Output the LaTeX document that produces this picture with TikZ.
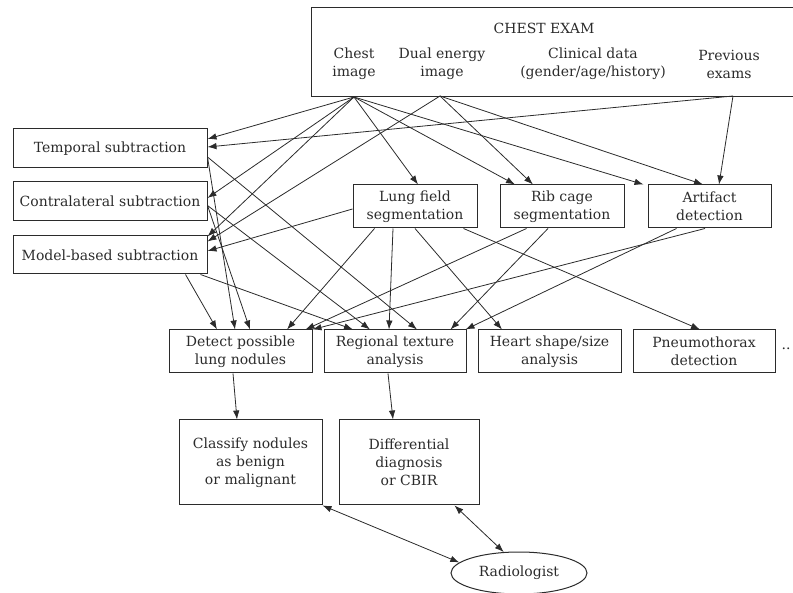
\documentclass[tikz,border=0pt]{standalone}
\usepackage{fontspec}
\setmainfont{DejaVu Serif}
\usetikzlibrary{arrows.meta,shapes.geometric}
\definecolor{ink}{HTML}{2B2B2B}
\tikzset{
  box/.style={draw=ink, line width=1pt, text=ink, align=center, inner sep=2pt,
    font=\fontsize{14}{18}\selectfont},
  lbl/.style={text=ink, align=center, inner sep=0pt, font=\fontsize{14}{18}\selectfont},
  conn/.style={draw=ink, line width=0.8pt, -{Latex[length=9pt,width=6.5pt]}},
  bconn/.style={draw=ink, line width=0.8pt, {Latex[length=9pt,width=6.5pt]}-{Latex[length=9pt,width=6.5pt]}}
}
\begin{document}
\begin{tikzpicture}[x=1pt,y=-1pt]
\useasboundingbox (0,0) rectangle (793,593);
% top box
\node[box, anchor=north west, minimum width=490pt, minimum height=89pt] (chest) at (311,7) {};
\node[lbl] (title) at (544,28) {CHEST EXAM};
\node[lbl] (ci) at (354,64) {Chest\\image};
\node[lbl] (de) at (442,64) {Dual energy\\image};
\node[lbl] (cd) at (593,64) {Clinical data\\(gender/age/history)};
\node[lbl] (pe) at (729,64) {Previous\\exams};
\coordinate (C) at (ci |- chest.south);
\coordinate (D) at (440,96);
\coordinate (P) at (733,96);
% left column
\node[box, minimum width=194pt, minimum height=39pt] (temporal) at (110,148.5) {Temporal subtraction};
\node[box, minimum width=194pt, minimum height=39pt] (contra) at (110,201.5) {Contralateral subtraction};
\node[box, minimum width=194pt, minimum height=38pt] (model) at (110,255) {Model-based subtraction};
% middle row
\node[box, minimum width=124pt, minimum height=43pt] (lung) at (415,206.5) {Lung field\\segmentation};
\node[box, minimum width=124pt, minimum height=43pt] (rib) at (562,206.5) {Rib cage\\segmentation};
\node[box, minimum width=123pt, minimum height=43pt] (artifact) at (709.5,206.5) {Artifact\\detection};
% bottom row
\node[box, minimum width=143pt, minimum height=43pt] (detect) at (240.5,351.5) {Detect possible\\lung nodules};
\node[box, minimum width=142pt, minimum height=43pt] (regional) at (395,351.5) {Regional texture\\analysis};
\node[box, minimum width=143pt, minimum height=43pt] (heart) at (549.5,351.5) {Heart shape/size\\analysis};
\node[box, minimum width=142pt, minimum height=43pt] (pneumo) at (704,351.5) {Pneumothorax\\detection};
\node[lbl] (dots) at (786,349) {..};
% last rows
\node[box, minimum width=143pt, minimum height=85pt] (classify) at (250.5,462.5) {Classify nodules\\as benign\\or malignant};
\node[box, minimum width=140pt, minimum height=85pt] (diff) at (409,462.5) {Differential\\diagnosis\\or CBIR};
\node[box, ellipse, inner xsep=0pt, inner ysep=0pt, minimum width=136pt, minimum height=42pt] (rad) at (519,573) {Radiologist};
% connectors from chest exam
\draw[conn] (C) -- ([yshift=9.5pt]temporal.east);
\draw[conn] (P) -- ([yshift=1.5pt]temporal.east);
\draw[conn] (C) -- ([yshift=3.5pt]contra.east);
\draw[conn] (C) -- ([yshift=-1pt]model.north east);
\draw[conn] (D) -- ([yshift=-6pt]model.north east);
\draw[conn] ([yshift=-2.5pt]lung.west) -- ([yshift=4pt]model.east);
\draw[conn] (C) -- ([xshift=3pt]lung.north);
\draw[conn] (C) -- ([xshift=-47pt]rib.north);
\draw[conn] (D) -- ([xshift=-29pt]rib.north);
\draw[conn] (C) -- ([xshift=-4pt]artifact.north west);
\draw[conn] (D) -- ([xshift=-6.5pt]artifact.north);
\draw[conn] (P) -- ([xshift=9.5pt]artifact.north);
% subtraction outputs
\draw[conn] ([yshift=-8.5pt]temporal.east) -- ([xshift=-5.5pt]detect.north);
\draw[conn] ([yshift=-8.5pt]temporal.east) -- ([xshift=22pt]regional.north);
\draw[conn] ([yshift=-4pt]contra.east) -- ([xshift=9.5pt]detect.north);
\draw[conn] ([yshift=-4pt]contra.east) -- ([xshift=-25pt]regional.north);
\draw[conn] ([xshift=-22pt]model.south east) -- ([xshift=-23.5pt]detect.north);
\draw[conn] ([xshift=-7pt]model.south east) -- ([xshift=-42pt]regional.north);
% segmentation outputs
\draw[conn] ([xshift=22pt]lung.south west) -- ([xshift=46.5pt]detect.north);
\draw[conn] ([xshift=-22pt]lung.south) -- ([xshift=-6pt]regional.north);
\draw[conn] (lung.south) -- ([xshift=-47.5pt]heart.north);
\draw[conn] ([xshift=-14pt]lung.south east) -- ([xshift=-4pt]pneumo.north);
\draw[conn] ([xshift=27pt]rib.south west) -- ([xshift=-7pt]detect.north east);
\draw[conn] ([xshift=-14pt]rib.south) -- ([xshift=-16pt]regional.north east);
\draw[conn] ([xshift=-4.5pt]artifact.south) -- ([xshift=0pt]detect.north east);
\draw[conn] ([xshift=29pt]artifact.south west) -- ([xshift=-1pt]regional.north east);
% lower
\draw[conn] ([xshift=-7.5pt]detect.south) -- ([xshift=-13.5pt]classify.north);
\draw[conn] ([xshift=-7pt]regional.south) -- ([xshift=-16pt]diff.north);
\draw[bconn] (classify.south east) -- (rad.170);
\draw[bconn] ([xshift=-25pt]diff.south east) -- (rad.126);
\end{tikzpicture}
\end{document}
